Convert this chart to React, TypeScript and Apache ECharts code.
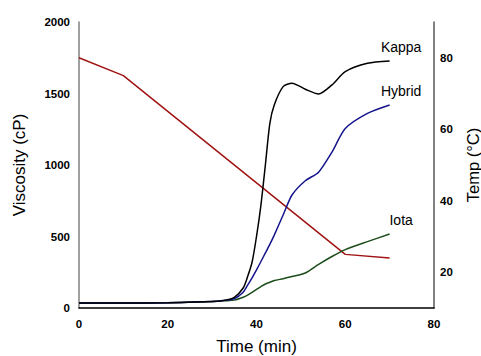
import React, { useEffect, useRef } from "react";
import * as echarts from "echarts";

const timeVisc = [0, 10, 20, 30, 33, 35, 37, 38, 39, 40, 41, 42, 43, 44, 46, 48, 51, 54, 57, 60, 65, 70];
const kappa = [35, 35, 37, 45, 55, 75, 140, 220, 320, 500, 720, 1000, 1290, 1420, 1548, 1572, 1530, 1497, 1560, 1653, 1711, 1727];
const hybrid = [35, 35, 37, 45, 55, 65, 110, 160, 210, 266, 325, 385, 445, 510, 650, 790, 890, 950, 1090, 1255, 1361, 1420];
const iota = [35, 35, 37, 45, 50, 55, 75, 90, 110, 130, 150, 168, 180, 192, 205, 220, 245, 305, 360, 408, 464, 517];
const timeTemp = [0, 10, 60, 70];
const temp = [80, 75, 25, 24];
const seriesNames = ["Kappa", "Hybrid", "Iota"];

const FONT = "Arial, 'Liberation Sans', sans-serif";

function pairs(xs: number[], ys: number[]) {
  return xs.map((x, i) => [x, ys[i]]);
}

export default function App() {
  const ref = useRef<HTMLDivElement>(null);
  useEffect(() => {
    const chart = echarts.init(ref.current!, null, { renderer: "svg" });
    const labelStyle = { fontFamily: FONT, fontSize: 11.5, fontWeight: "bold", color: "#000" };
    const nameStyle = { fontFamily: FONT, fontSize: 17, color: "#000" };
    chart.setOption({
      animation: false,
      backgroundColor: "#fff",
      grid: { left: 79, right: 47, top: 22, bottom: 48, containLabel: false, outerBoundsMode: "none" },
      xAxis: {
        type: "value",
        min: 0,
        max: 80,
        interval: 20,
        name: "Time (min)",
        nameLocation: "middle",
        nameGap: 30,
        nameTextStyle: nameStyle,
        axisLine: { show: true, lineStyle: { color: "#000", width: 1.5 } },
        axisTick: { show: false },
        splitLine: { show: false },
        axisLabel: { ...labelStyle, margin: 10 },
      },
      yAxis: [
        {
          type: "value",
          min: 0,
          max: 2000,
          interval: 500,
          name: "Viscosity (cP)",
          nameLocation: "middle",
          nameGap: 51,
          nameTextStyle: nameStyle,
          axisLine: { show: true, lineStyle: { color: "#808080", width: 1.5 } },
          axisTick: { show: false },
          splitLine: { show: false },
          axisLabel: { ...labelStyle, margin: 9, formatter: (v: number) => String(v) },
        },
        {
          type: "value",
          position: "right",
          min: 10,
          max: 90,
          interval: 10,
          name: "Temp (°C)",
          nameLocation: "middle",
          nameGap: 30,
          nameTextStyle: { ...nameStyle, fontSize: 16.5 },
          axisLine: { show: true, lineStyle: { color: "#595959", width: 1.5 } },
          axisTick: { show: false },
          splitLine: { show: false },
          axisLabel: {
            ...labelStyle,
            margin: 6,
            formatter: (v: number) => (v % 20 === 0 && v >= 20 && v <= 80 ? String(v) : ""),
          },
        },
      ],
      series: [
        {
          type: "line",
          name: "Temp",
          yAxisIndex: 1,
          data: pairs(timeTemp, temp),
          showSymbol: false,
          lineStyle: { color: "#a01414", width: 1.5 },
        },
        {
          type: "line",
          name: "Iota",
          data: pairs(timeVisc, iota),
          smooth: 0.25,
          showSymbol: false,
          lineStyle: { color: "#1b4d1b", width: 1.5 },
        },
        {
          type: "line",
          name: "Hybrid",
          data: pairs(timeVisc, hybrid),
          smooth: 0.25,
          showSymbol: false,
          lineStyle: { color: "#14148c", width: 1.5 },
        },
        {
          type: "line",
          name: "Kappa",
          data: pairs(timeVisc, kappa),
          smooth: 0.25,
          showSymbol: false,
          lineStyle: { color: "#000", width: 1.5 },
        },
      ],
    });
    const last = timeVisc.length - 1;
    const ends = [kappa[last], hybrid[last], iota[last]];
    const graphic = seriesNames.map((name, i) => {
      const p = chart.convertToPixel({ xAxisIndex: 0, yAxisIndex: 0 }, [timeVisc[last], ends[i]]) as number[];
      return {
        type: "text",
        x: p[0] + 11.5,
        y: p[1] - 14,
        style: {
          text: name,
          fontFamily: FONT,
          fontSize: 14,
          fill: "#000",
          textAlign: "center",
          textVerticalAlign: "middle",
        },
      };
    });
    chart.setOption({ graphic });
    return () => chart.dispose();
  }, []);
  return (
    <div
      ref={ref}
      style={{ position: "absolute", left: 0, top: 0, width: 481, height: 356 }}
    />
  );
}
